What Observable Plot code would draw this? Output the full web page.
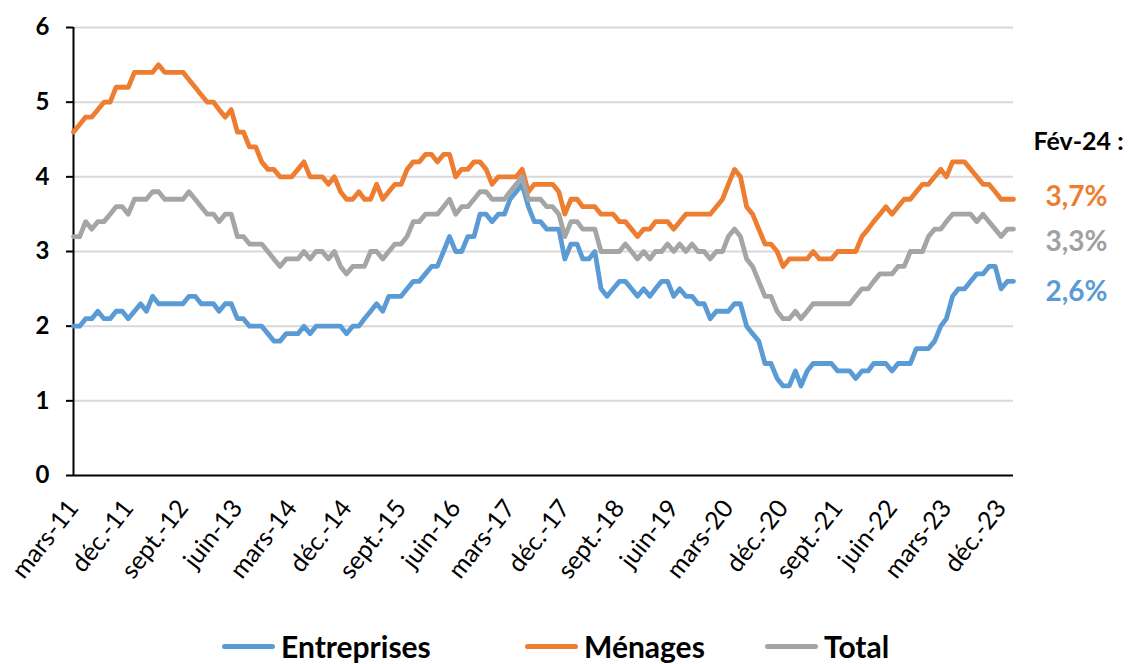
<!DOCTYPE html>
<html><head><meta charset="utf-8">
<script src="https://cdn.jsdelivr.net/npm/d3@7"></script>
<script src="https://cdn.jsdelivr.net/npm/@observablehq/plot@0.6"></script>
<style>
body{margin:0;background:#fff;font-family:Lato,sans-serif;}
#wrap{position:relative;width:1130px;height:664px;overflow:hidden;background:#fff;}
#chart svg{display:block;}
g[aria-label="y-axis tick label"] text{font-weight:bold;}
.legend{position:absolute;top:629px;left:0;width:1130px;height:35px;}
.item{position:absolute;top:0;display:flex;align-items:center;height:34px;font-weight:bold;font-size:30px;line-height:34px;color:#000;}
.sw{display:inline-block;width:53px;height:5px;border-radius:3px;margin-right:6px;}
</style></head><body><div id="wrap"><div id="chart"></div><div class="legend" id="legend"></div></div>
<script>
const tickLabels = ["mars-11","déc.-11","sept.-12","juin-13","mars-14","déc.-14","sept.-15","juin-16","mars-17","déc.-17","sept.-18","juin-19","mars-20","déc.-20","sept.-21","juin-22","mars-23","déc.-23"];
const seriesNames = ["Entreprises","Ménages","Total"];
const seriesColors = ["#5B9BD5","#ED7D31","#A5A5A5"];
const yTicks = [0,1,2,3,4,5,6];

// monthly, mars 2011 -> février 2024
const entreprises = [2.0,2.0,2.1,2.1,2.2,2.1,2.1,2.2,2.2,2.1,2.2,2.3,2.2,2.4,2.3,2.3,2.3,2.3,2.3,2.4,2.4,2.3,2.3,2.3,2.2,2.3,2.3,2.1,2.1,2.0,2.0,2.0,1.9,1.8,1.8,1.9,1.9,1.9,2.0,1.9,2.0,2.0,2.0,2.0,2.0,1.9,2.0,2.0,2.1,2.2,2.3,2.2,2.4,2.4,2.4,2.5,2.6,2.6,2.7,2.8,2.8,3.0,3.2,3.0,3.0,3.2,3.2,3.5,3.5,3.4,3.5,3.5,3.7,3.8,3.9,3.6,3.4,3.4,3.3,3.3,3.3,2.9,3.1,3.1,2.9,2.9,3.0,2.5,2.4,2.5,2.6,2.6,2.5,2.4,2.5,2.4,2.5,2.6,2.6,2.4,2.5,2.4,2.4,2.3,2.3,2.1,2.2,2.2,2.2,2.3,2.3,2.0,1.9,1.8,1.5,1.5,1.3,1.2,1.2,1.4,1.2,1.4,1.5,1.5,1.5,1.5,1.4,1.4,1.4,1.3,1.4,1.4,1.5,1.5,1.5,1.4,1.5,1.5,1.5,1.7,1.7,1.7,1.8,2.0,2.1,2.4,2.5,2.5,2.6,2.7,2.7,2.8,2.8,2.5,2.6,2.6];
const menages = [4.6,4.7,4.8,4.8,4.9,5.0,5.0,5.2,5.2,5.2,5.4,5.4,5.4,5.4,5.5,5.4,5.4,5.4,5.4,5.3,5.2,5.1,5.0,5.0,4.9,4.8,4.9,4.6,4.6,4.4,4.4,4.2,4.1,4.1,4.0,4.0,4.0,4.1,4.2,4.0,4.0,4.0,3.9,4.0,3.8,3.7,3.7,3.8,3.7,3.7,3.9,3.7,3.8,3.9,3.9,4.1,4.2,4.2,4.3,4.3,4.2,4.3,4.3,4.0,4.1,4.1,4.2,4.2,4.1,3.9,4.0,4.0,4.0,4.0,4.1,3.8,3.9,3.9,3.9,3.9,3.8,3.5,3.7,3.7,3.6,3.6,3.6,3.5,3.5,3.5,3.4,3.4,3.3,3.2,3.3,3.3,3.4,3.4,3.4,3.3,3.4,3.5,3.5,3.5,3.5,3.5,3.6,3.7,3.9,4.1,4.0,3.6,3.5,3.3,3.1,3.1,3.0,2.8,2.9,2.9,2.9,2.9,3.0,2.9,2.9,2.9,3.0,3.0,3.0,3.0,3.2,3.3,3.4,3.5,3.6,3.5,3.6,3.7,3.7,3.8,3.9,3.9,4.0,4.1,4.0,4.2,4.2,4.2,4.1,4.0,3.9,3.9,3.8,3.7,3.7,3.7];
const total = [3.2,3.2,3.4,3.3,3.4,3.4,3.5,3.6,3.6,3.5,3.7,3.7,3.7,3.8,3.8,3.7,3.7,3.7,3.7,3.8,3.7,3.6,3.5,3.5,3.4,3.5,3.5,3.2,3.2,3.1,3.1,3.1,3.0,2.9,2.8,2.9,2.9,2.9,3.0,2.9,3.0,3.0,2.9,3.0,2.8,2.7,2.8,2.8,2.8,3.0,3.0,2.9,3.0,3.1,3.1,3.2,3.4,3.4,3.5,3.5,3.5,3.6,3.7,3.5,3.6,3.6,3.7,3.8,3.8,3.7,3.7,3.7,3.8,3.9,4.0,3.7,3.7,3.7,3.6,3.6,3.5,3.2,3.4,3.4,3.3,3.3,3.3,3.0,3.0,3.0,3.0,3.1,3.0,2.9,3.0,2.9,3.0,3.0,3.1,3.0,3.1,3.0,3.1,3.0,3.0,2.9,3.0,3.0,3.2,3.3,3.2,2.9,2.8,2.6,2.4,2.4,2.2,2.1,2.1,2.2,2.1,2.2,2.3,2.3,2.3,2.3,2.3,2.3,2.3,2.4,2.5,2.5,2.6,2.7,2.7,2.7,2.8,2.8,3.0,3.0,3.0,3.2,3.3,3.3,3.4,3.5,3.5,3.5,3.5,3.4,3.5,3.4,3.3,3.2,3.3,3.3];

const lastTitle = "Fév-24 :";
const lastLabels = ["2,6%","3,7%","3,3%"];

const dates = entreprises.map((_, i) => new Date(Date.UTC(2011, 2 + i, 1)));
const rows = [];
[entreprises, menages, total].forEach((arr, k) =>
  arr.forEach((v, i) => rows.push({date: dates[i], value: v, serie: seriesNames[k]})));
const tickDates = tickLabels.map((_, j) => dates[j * 9]);
const n = dates.length - 1;
const last = [
  {date: dates[n], value: entreprises[n], text: lastLabels[0], color: seriesColors[0]},
  {date: dates[n], value: menages[n], text: lastLabels[1], color: seriesColors[1]},
  {date: dates[n], value: total[n], text: lastLabels[2], color: "#A0A0A0"}
];

const chart = Plot.plot({
  width: 1130, height: 610,
  marginLeft: 73, marginRight: 117, marginTop: 27, marginBottom: 135,
  x: {type: "utc", domain: [dates[0], dates[n]]},
  y: {domain: [0, 6]},
  color: {domain: seriesNames, range: seriesColors},
  style: {fontFamily: "Lato, sans-serif", background: "white", color: "black"},
  marks: [
    Plot.gridY(yTicks.slice(1), {stroke: "#D9D9D9", strokeOpacity: 1, strokeWidth: 2}),
    Plot.axisY(yTicks, {tickFormat: d => String(d), tickSize: 7, tickPadding: 17, fontSize: 24, fontWeight: "bold", strokeWidth: 2, label: null}),
    Plot.axisX(tickDates, {
      tickFormat: d => tickLabels[tickDates.findIndex(t => +t === +d)],
      tickRotate: -52, tickSize: 0, tickPadding: 28, fontSize: 25, label: null
    }),
    Plot.ruleY([0], {stroke: "black", strokeWidth: 2}),
    Plot.ruleX([dates[0]], {stroke: "black", strokeWidth: 2}),
    Plot.line(rows, {x: "date", y: "value", z: "serie", stroke: "serie", strokeWidth: 4.8, strokeLinejoin: "round", strokeLinecap: "round"}),
    Plot.text([last[1]], {x: "date", y: "value", text: () => lastTitle, dx: 20, dy: -57, textAnchor: "start", fontSize: 25, fontWeight: "bold", fill: "black"}),
    Plot.text([last[1]], {x: "date", y: "value", text: "text", dx: 32, dy: -2, textAnchor: "start", fontSize: 28, fontWeight: "bold", fill: "color"}),
    Plot.text([last[2]], {x: "date", y: "value", text: "text", dx: 32, dy: 13, textAnchor: "start", fontSize: 28, fontWeight: "bold", fill: "color"}),
    Plot.text([last[0]], {x: "date", y: "value", text: "text", dx: 32, dy: 11, textAnchor: "start", fontSize: 28, fontWeight: "bold", fill: "color"})
  ]
});
document.getElementById("chart").appendChild(chart);

const legendPos = [222, 525, 765];
const legend = document.getElementById("legend");
seriesNames.forEach((name, k) => {
  const it = document.createElement("div");
  it.className = "item";
  it.style.left = legendPos[k] + "px";
  it.innerHTML = `<span class="sw" style="background:${seriesColors[k]}"></span><span>${name}</span>`;
  legend.appendChild(it);
});
</script></body></html>
